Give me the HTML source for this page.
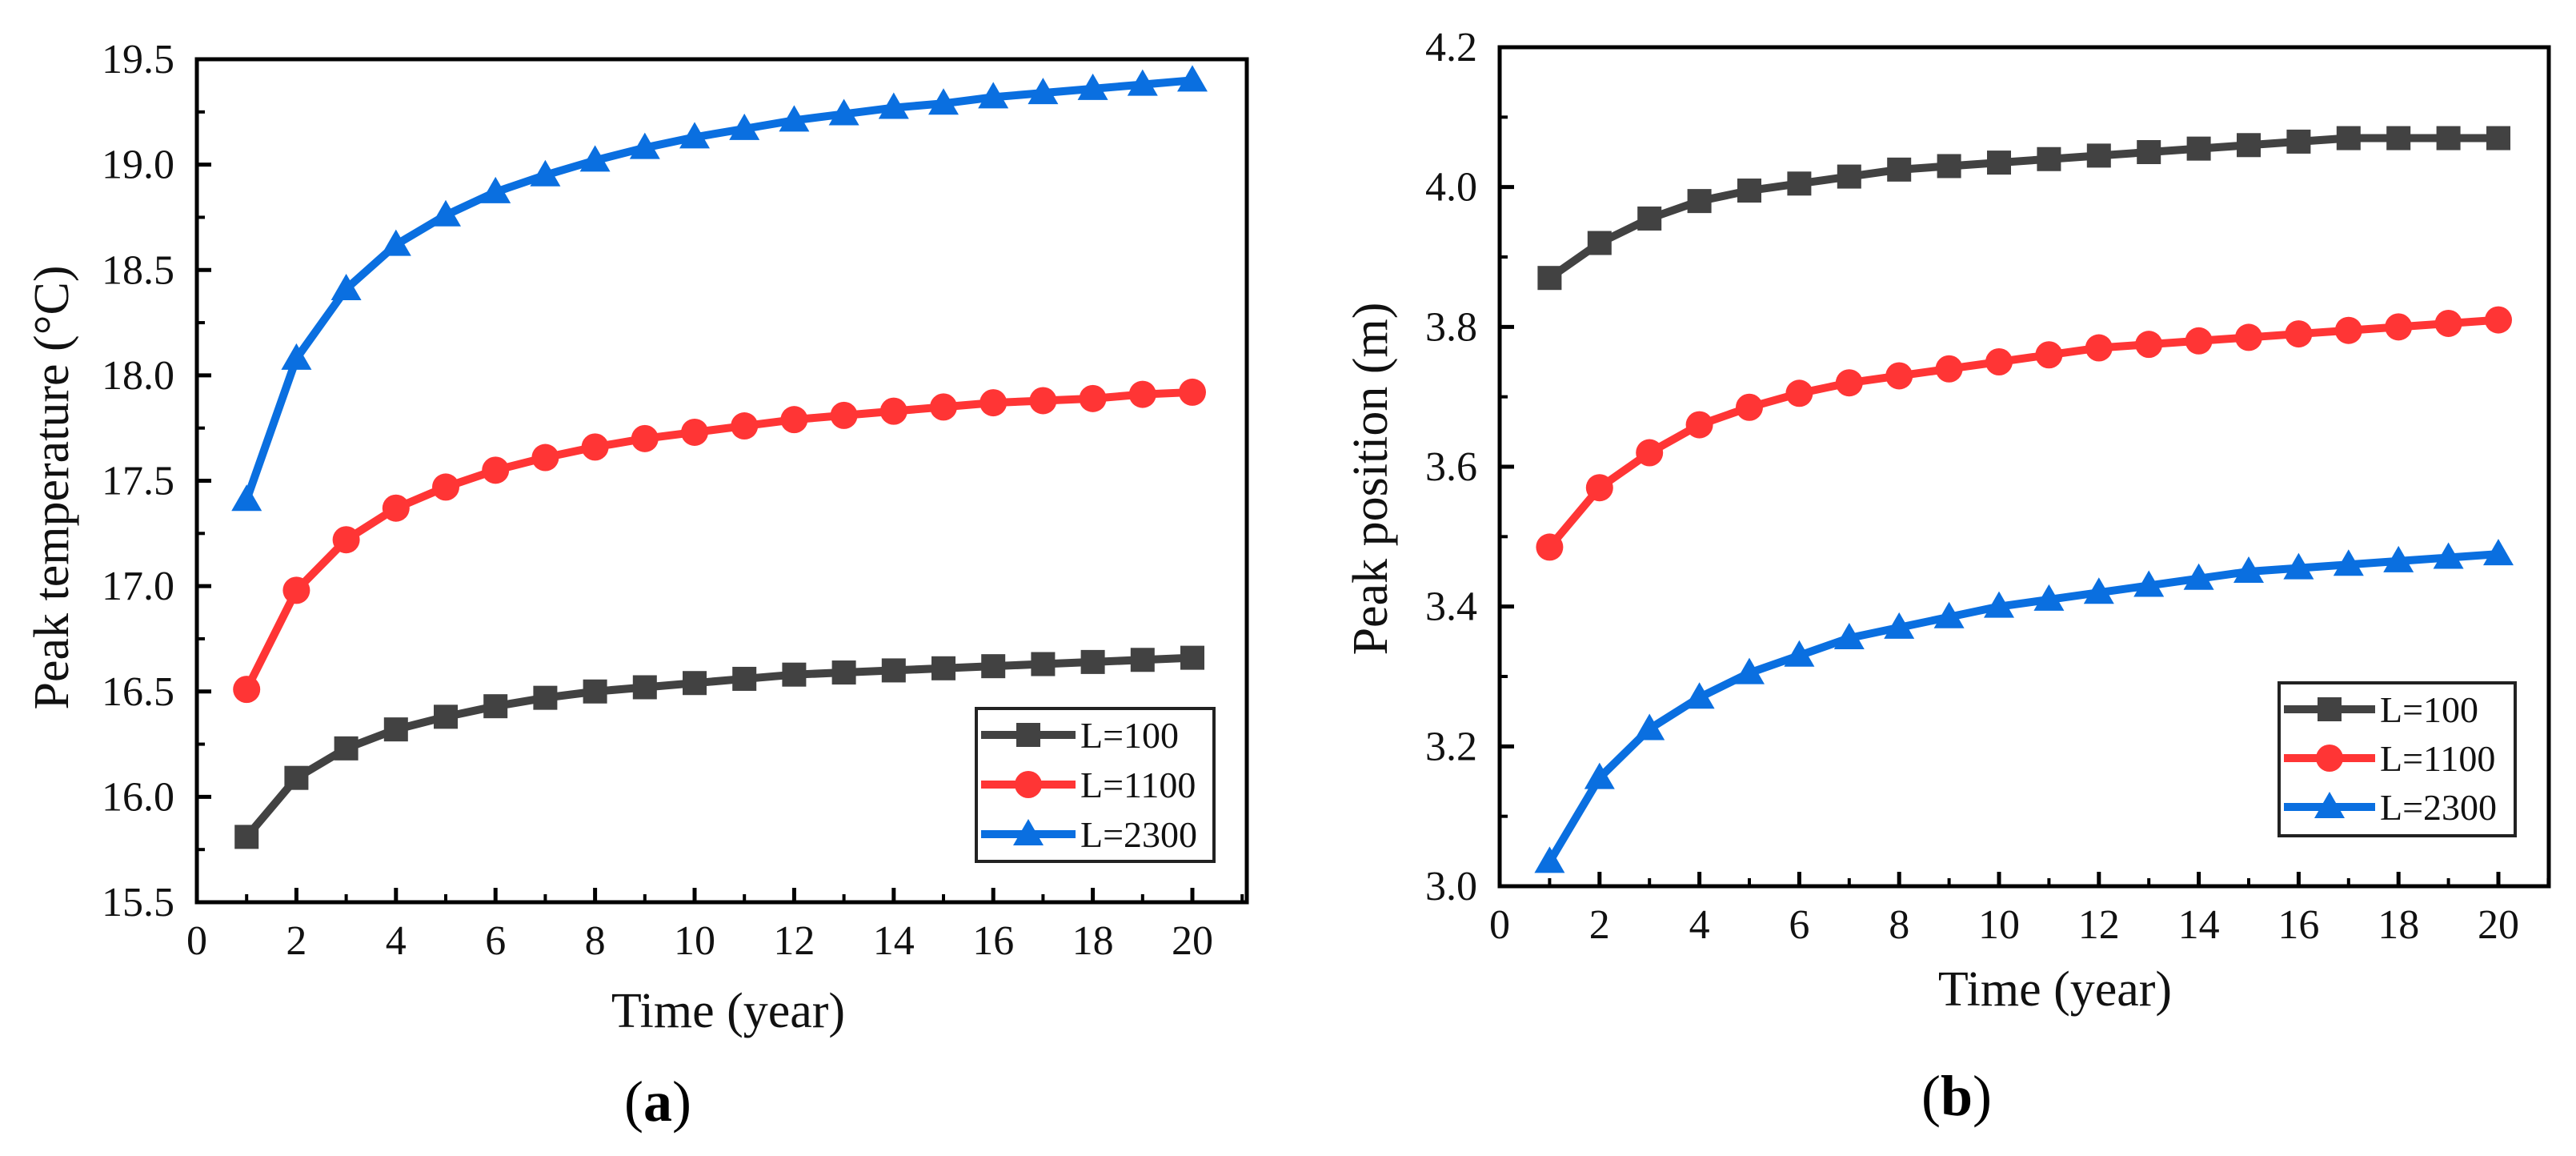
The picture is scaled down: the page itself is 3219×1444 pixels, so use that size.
<!DOCTYPE html>
<html><head><meta charset="utf-8"><style>
html,body{margin:0;padding:0;background:#fff;}
svg{display:block;font-family:"Liberation Serif",serif;}
</style></head><body>
<svg id="fig" width="3219" height="1444" viewBox="0 0 3219 1444" xmlns="http://www.w3.org/2000/svg"></svg>
<script>
const years = [1,2,3,4,5,6,7,8,9,10,11,12,13,14,15,16,17,18,19,20];
const seriesNames = ["L=100","L=1100","L=2300"];
const tempL100 = [15.81,16.09,16.23,16.32,16.38,16.43,16.47,16.50,16.52,16.54,16.56,16.58,16.59,16.60,16.61,16.62,16.63,16.64,16.65,16.66];
const tempL1100 = [16.51,16.98,17.22,17.37,17.47,17.55,17.61,17.66,17.70,17.73,17.76,17.79,17.81,17.83,17.85,17.87,17.88,17.89,17.91,17.92];
const tempL2300 = [17.41,18.08,18.41,18.62,18.76,18.87,18.95,19.02,19.08,19.13,19.17,19.21,19.24,19.27,19.29,19.32,19.34,19.36,19.38,19.40];
const posL100 = [3.87,3.92,3.955,3.98,3.995,4.005,4.015,4.025,4.03,4.035,4.04,4.045,4.05,4.055,4.06,4.065,4.07,4.07,4.07,4.07];
const posL1100 = [3.485,3.57,3.62,3.66,3.685,3.705,3.72,3.73,3.74,3.75,3.76,3.77,3.775,3.78,3.785,3.79,3.795,3.80,3.805,3.81];
const posL2300 = [3.035,3.155,3.225,3.27,3.305,3.33,3.355,3.37,3.385,3.40,3.41,3.42,3.43,3.44,3.45,3.455,3.46,3.465,3.47,3.475];
const xTicks = [0,2,4,6,8,10,12,14,16,18,20];
const yTicksA = ["15.5","16.0","16.5","17.0","17.5","18.0","18.5","19.0","19.5"];
const yTicksB = ["3.0","3.2","3.4","3.6","3.8","4.0","4.2"];

const NS="http://www.w3.org/2000/svg";
const svg=document.getElementById('fig');
const colors=["#424242","#ff3535","#0a6fe0"];
const markers=["square","circle","triangle"];
function mk(tag,attrs,parent){const e=document.createElementNS(NS,tag);for(const k in attrs)e.setAttribute(k,attrs[k]);(parent||svg).appendChild(e);return e;}
function marker(g,type,x,y,c){
  let m;
  if(type==="square")m=mk('rect',{x:x-15,y:y-15,width:30,height:30,fill:c},g);
  else if(type==="circle")m=mk('circle',{cx:x,cy:y,r:17,fill:c},g);
  else m=mk('polygon',{points:`${x},${y-19} ${x+19},${y+14} ${x-19},${y+14}`,fill:c},g);
  return m;
}
function chart(cfg){
  const g=mk('g',{});
  
  
  const X=v=>cfg.x0+(v-0)*(cfg.x1-cfg.x0)/21;
  const Y=v=>cfg.yb+(v-cfg.ymin)*(cfg.yt-cfg.yb)/(cfg.ymax-cfg.ymin);
  const right=cfg.right;
  xTicks.forEach(t=>{
    const tk=mk('line',{x1:X(t),x2:X(t),y1:cfg.yb,y2:cfg.yb-18,stroke:'#000','stroke-width':5},g);
    
    
    const mt=mk('line',{x1:X(t+1),x2:X(t+1),y1:cfg.yb,y2:cfg.yb-10,stroke:'#000','stroke-width':4},g);
    
    
    const lb=mk('text',{x:X(t),y:cfg.yb+65,'font-size':52,'text-anchor':'middle',fill:'#111'},g);
    lb.textContent=t;
    
    
  });
  const n=cfg.yTicks.length;
  cfg.yTicks.forEach((t,i)=>{
    const v=parseFloat(t);
    const tk=mk('line',{x1:cfg.x0,x2:cfg.x0+18,y1:Y(v),y2:Y(v),stroke:'#000','stroke-width':5},g);
    
    
    if(i<n-1){const h=(v+parseFloat(cfg.yTicks[i+1]))/2;
      const mt=mk('line',{x1:cfg.x0,x2:cfg.x0+10,y1:Y(h),y2:Y(h),stroke:'#000','stroke-width':4},g);
      
      }
    const lb=mk('text',{x:cfg.x0-28,y:Y(v)+17,'font-size':52,'text-anchor':'end',fill:'#111'},g);
    lb.textContent=t;
    
    
  });
  const fr=mk('rect',{x:cfg.x0,y:cfg.yt,width:right-cfg.x0,height:cfg.yb-cfg.yt,fill:'none',stroke:'#000','stroke-width':5},g);
  
  
  cfg.series.forEach((s,si)=>{
    const sg=mk('g',{},g);
    
    
    const pts=years.map((yr,i)=>X(yr)+','+Y(s[i])).join(' ');
    const pl=mk('polyline',{points:pts,fill:'none',stroke:colors[si],'stroke-width':10,'stroke-linejoin':'round'},sg);
    
    
    years.forEach((yr,i)=>{const m=marker(sg,markers[si],X(yr),Y(s[i]),colors[si]);
      
      });
  });
  const L=cfg.leg;
  const lg=mk('g',{},g);
  
  
  mk('rect',{x:L.x,y:L.y,width:L.w,height:L.h,fill:'#fff',stroke:'#222','stroke-width':4},lg);
  seriesNames.forEach((nm,i)=>{
    const cy=L.y+L.r0+i*L.dy;
    const e=mk('g',{},lg);
    
    
    mk('line',{x1:L.x+6,x2:L.tx-6,y1:cy,y2:cy,stroke:colors[i],'stroke-width':10},e);
    marker(e,markers[i],(L.x+L.tx)/2,cy,colors[i]);
    const t=mk('text',{x:L.tx,y:cy+16,'font-size':46,fill:'#111'},e);
    t.textContent=nm;
  });
  const xt=mk('text',{x:cfg.xtx,y:cfg.xty,'font-size':62,'text-anchor':'middle',fill:'#111'},g);
  xt.textContent='Time (year)';
  
  
  const yt=mk('text',{x:0,y:0,'font-size':62,'text-anchor':'middle',fill:'#111',transform:`translate(${cfg.ytx},${cfg.yty}) rotate(-90)`},g);
  yt.textContent=cfg.ytitle;
  
  
  const cap=mk('text',{x:cfg.capx,y:cfg.capy,'font-size':72,'text-anchor':'middle',fill:'#000'},g);
  cap.innerHTML='(<tspan font-weight="bold">'+cfg.cap+'</tspan>)';
  
  
}
chart({name:'chart-a',x0:246,x1:246+62.2*21,right:1558,yt:74,yb:1127,ymin:15.5,ymax:19.5,yTicks:yTicksA,
  series:[tempL100,tempL1100,tempL2300],
  leg:{x:1220,y:885,w:297,h:191,tx:1350,r0:33,dy:62},
  xtx:910,xty:1283,ytx:85,yty:609,ytitle:'Peak temperature (°C)',capx:822,capy:1400,cap:'a'});
chart({name:'chart-b',x0:1874,x1:1874+62.4*21,right:3185,yt:59,yb:1107,ymin:3.0,ymax:4.2,yTicks:yTicksB,
  series:[posL100,posL1100,posL2300],
  leg:{x:2848,y:853,w:295,h:191,tx:2974,r0:33,dy:61},
  xtx:2568,xty:1256,ytx:1733,yty:598,ytitle:'Peak position (m)',capx:2445,capy:1393,cap:'b'});
</script>
</body></html>
